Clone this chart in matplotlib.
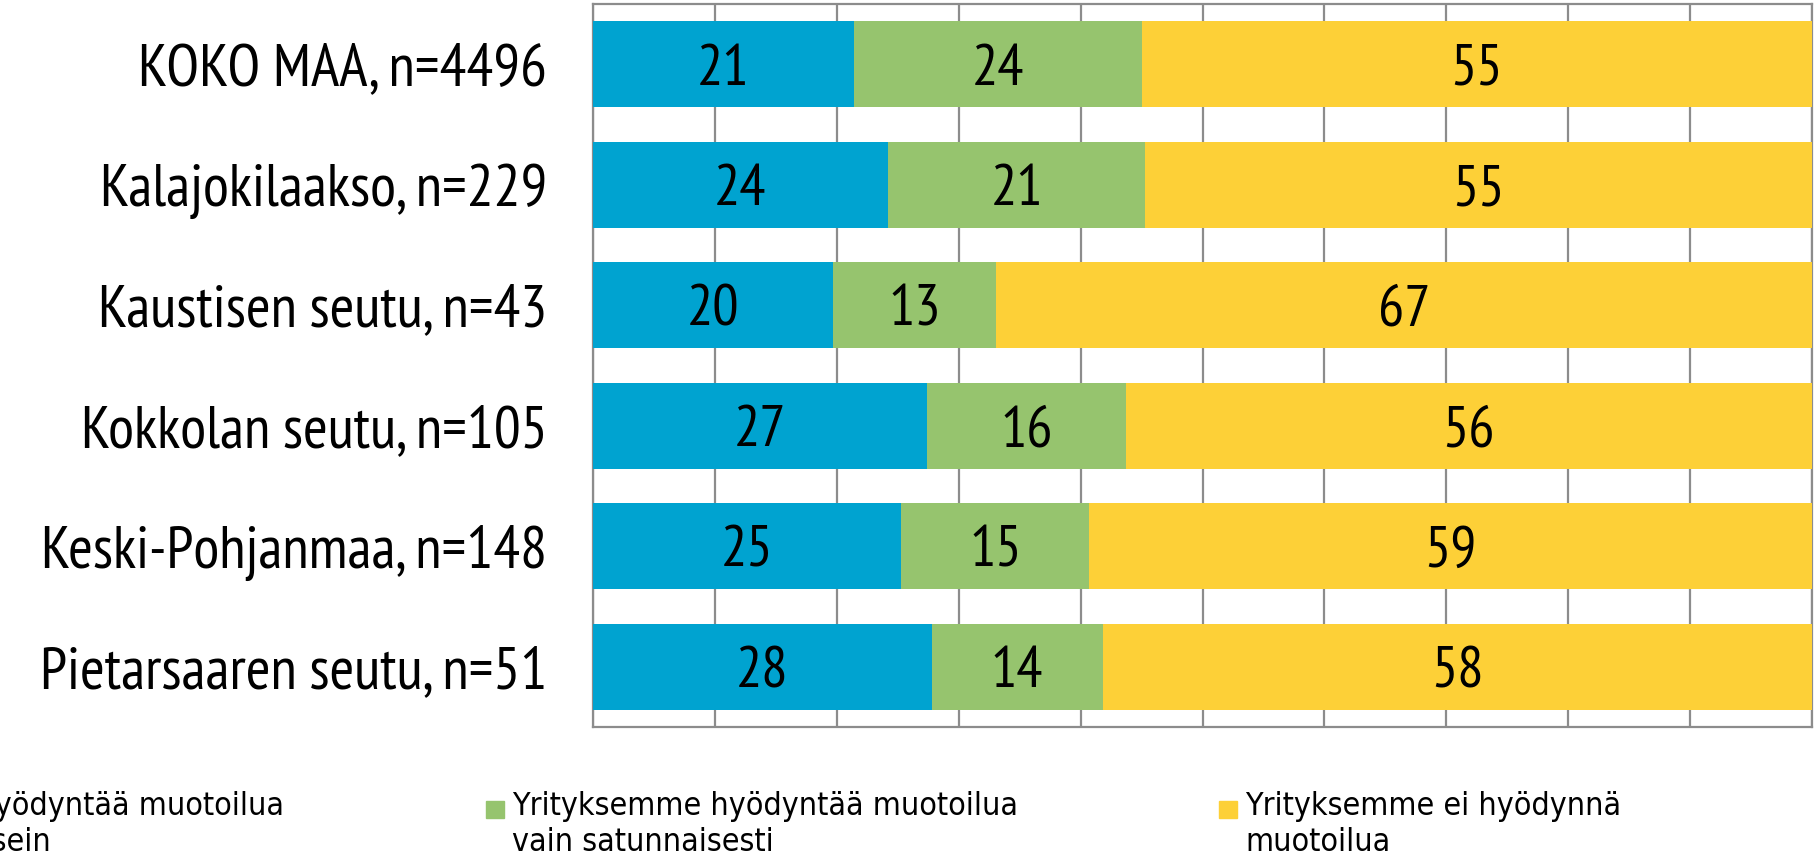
import matplotlib.pyplot as plt
from matplotlib.patches import Rectangle

categories = ["KOKO MAA, n=4496", "Kalajokilaakso, n=229", "Kaustisen seutu, n=43",
              "Kokkolan seutu, n=105", "Keski-Pohjanmaa, n=148", "Pietarsaaren seutu, n=51"]
often = [21.4, 24.2, 19.7, 27.4, 25.3, 27.8]
sometimes = [23.6, 21.1, 13.4, 16.3, 15.4, 14.0]
never = [55.0, 54.7, 66.9, 56.3, 59.3, 58.2]
series_names = ["Yrityksemme hyödyntää muotoilua\njatkuvasti tai usein",
                "Yrityksemme hyödyntää muotoilua\nvain satunnaisesti",
                "Yrityksemme ei hyödynnä\nmuotoilua"]
colors = ["#00A3D0", "#96C46E", "#FDD037"]

FAM = ["PT Sans Narrow", "DejaVu Sans"]

fig = plt.figure(figsize=(18.16, 8.59), dpi=100)
ax = fig.add_axes([593 / 1816, 1 - 727 / 859, (1812 - 593) / 1816, (727 - 4) / 859])

ypos = list(range(len(categories)))
left = [0.0] * len(categories)
for vals, col in zip([often, sometimes, never], colors):
    bars = ax.barh(ypos, vals, left=left, height=0.71, color=col, zorder=3)
    for b, v in zip(bars, vals):
        ax.text(b.get_x() + b.get_width() / 2, b.get_y() + b.get_height() / 2,
                "%.0f" % v, ha="center", va="center_baseline", fontsize=42,
                family=FAM, zorder=4)
    left = [l + v for l, v in zip(left, vals)]

ax.set_xlim(0, 100)
ax.set_ylim(len(categories) - 0.5, -0.5)
ax.set_xticks(range(0, 101, 10))
ax.set_xticklabels([])
ax.tick_params(axis="x", length=0)
ax.grid(axis="x", color="#8c8c8c", linewidth=1.6, zorder=0)
ax.set_yticks(ypos)
ax.set_yticklabels(categories, fontsize=43, family=FAM)
ax.tick_params(axis="y", length=0, pad=33)
for s in ax.spines.values():
    s.set_color("#8c8c8c")
    s.set_linewidth(1.6)

# legend, first entry runs off the left edge like in the original
leg_x = [-248, 486, 1219]
for x0, name, col in zip(leg_x, series_names, colors):
    fig.patches.append(Rectangle((x0 / 1816, 1 - 818 / 859), 18 / 1816, 17 / 859,
                                 transform=fig.transFigure, color=col))
    fig.text((x0 + 26) / 1816, 1 - 791 / 859, name, ha="left", va="top",
             fontsize=23, linespacing=1.22, family="DejaVu Sans", stretch="condensed")

fig.savefig("out.png", dpi=100)
